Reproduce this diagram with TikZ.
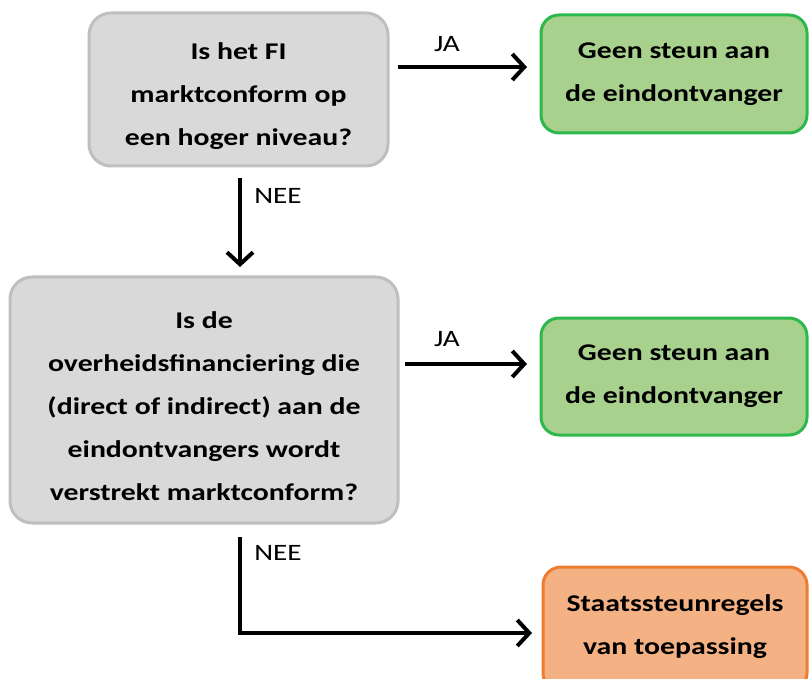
\documentclass[tikz,border=0pt]{standalone}
\usepackage{fontspec}
\setmainfont{Carlito}[FakeStretch=1.24]
\usetikzlibrary{arrows.meta}
\definecolor{qfill}{HTML}{D9D9D9}
\definecolor{qdraw}{HTML}{BFBFBF}
\definecolor{gfill}{HTML}{A9D18E}
\definecolor{gdraw}{HTML}{2DB84D}
\definecolor{ofill}{HTML}{F4B183}
\definecolor{odraw}{HTML}{ED7D31}
\tikzset{
  qbox/.style={draw=qdraw, fill=qfill, line width=3pt, rounded corners=22pt, inner sep=0pt},
  gbox/.style={draw=gdraw, fill=gfill, line width=3pt, rounded corners=18pt, inner sep=0pt,
    align=center, font=\fontsize{24}{43}\selectfont\bfseries},
  obox/.style={draw=odraw, fill=ofill, line width=3pt, rounded corners=18pt, inner sep=0pt},
  btext/.style={align=center, inner sep=0pt, font=\fontsize{24}{43}\selectfont\bfseries},
  lab/.style={inner sep=0pt, font=\fontsize{23.5}{26}\selectfont},
  flow/.style={line width=4pt, -{Straight Barb[length=12pt,width=26pt,line width=4pt]}},
}
\begin{document}
\begin{tikzpicture}[x=1pt,y=-1pt]
\useasboundingbox (0,0) rectangle (809,679);
\begin{scope}
\clip (0,0) rectangle (809,679);
% question 1
\node[qbox, minimum width=299pt, minimum height=153pt] (q1) at (238.5,89.5) {};
\node[btext] (q1t) at (238.5,96) {Is het FI\\marktconform op\\een hoger niveau?};
% answer 1
\node[gbox, minimum width=266pt, minimum height=118pt] (g1) at (674,74) {Geen steun aan\\de eindontvanger};
% question 2
\node[qbox, minimum width=388pt, minimum height=246pt] (q2) at (204,400) {};
\node[btext] (q2t) at (204,406) {Is de\\overheidsfinanciering die\\(direct of indirect) aan de\\eindontvangers wordt\\verstrekt marktconform?};
% answer 2
\node[gbox, minimum width=266pt, minimum height=117pt] (g2) at (674,376.5) {Geen steun aan\\de eindontvanger};
% answer 3
\node[obox, minimum width=264pt, minimum height=124pt] (o1) at (675,629) {};
\node[btext] (o1t) at (675,627) {Staatssteunregels\\van toepassing};
% connectors
\coordinate (a1s) at (398,67);
\coordinate (a1e) at (527,67);
\draw[flow] (a1s) -- (a1e);
\node[lab] (ja1) at (447,44) {JA};
\coordinate (n1s) at (240,178);
\coordinate (n1e) at (240,267);
\draw[flow] (n1s) -- (n1e);
\node[lab] (nee1) at (278,196) {NEE};
\coordinate (a2s) at (405,364);
\coordinate (a2e) at (527,364);
\draw[flow] (a2s) -- (a2e);
\node[lab] (ja2) at (447,339) {JA};
\coordinate (n2s) at (240,537);
\coordinate (n2c) at (240,633);
\coordinate (n2e) at (532,633);
\draw[flow] (n2s) -- (n2c) -- (n2e);
\node[lab] (nee2) at (278,553) {NEE};
\end{scope}
\end{tikzpicture}
\end{document}
